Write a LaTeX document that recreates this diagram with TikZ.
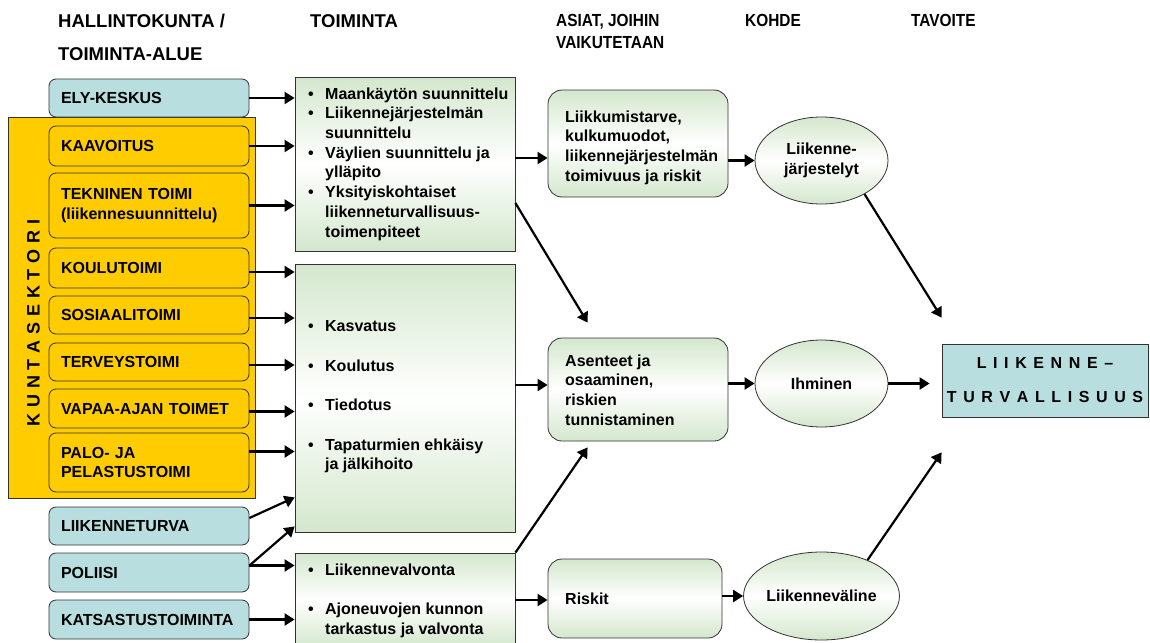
\documentclass[tikz,border=0pt]{standalone}
\usepackage{fontspec}
\setmainfont{Liberation Sans}[BoldFont={Liberation Sans Bold}]
\newfontfamily\narrowfont{Liberation Sans}[BoldFont={Liberation Sans Bold},FakeStretch=0.88]
\usetikzlibrary{arrows.meta,shapes.geometric,calc}
\definecolor{gold}{RGB}{255,204,0}
\definecolor{paleblue}{RGB}{184,222,224}
\definecolor{palegreen}{RGB}{212,231,205}
\definecolor{edge}{RGB}{50,50,50}
% letter spacing for the spaced-out titles
\newcommand\lsk{\kern5.8pt}
\newcommand\gsk{\kern6.6pt}
% bullet list helpers
\newcommand\bul{\makebox[17pt][l]{•}}
\newcommand\ind{\hspace*{17pt}}

\begin{document}
\begin{tikzpicture}[x=1pt,y=-1pt,
  every node/.style={font=\bfseries\fontsize{16}{19.7}\selectfont},
  head/.style={anchor=west,inner sep=0pt,align=left},
  narrowhead/.style={head,font=\narrowfont\bfseries\fontsize{17.5}{22}\selectfont},
  lbox/.style={draw=edge,line width=0.8pt,rounded corners=7pt,minimum width=200pt,
    text width=176pt,inner xsep=12pt,inner ysep=0pt,align=left},
  orgbox/.style={lbox,fill=gold},
  bluebox/.style={lbox,fill=paleblue},
  greenshade/.style={top color=palegreen,bottom color=palegreen,middle color=white},
  actbox/.style={draw=edge,line width=0.8pt,greenshade,minimum width=220pt,inner sep=0pt},
  issuebox/.style={draw=edge,line width=0.8pt,greenshade,rounded corners=14pt,inner sep=0pt},
  focus/.style={draw=edge,line width=0.8pt,greenshade,ellipse,minimum width=133pt,
    minimum height=87pt,inner sep=0pt,align=center},
  txt/.style={anchor=west,inner sep=0pt,align=left},
  arr/.style={line width=2.2pt,-{Triangle[length=10pt,width=12pt]}},
]
\clip (0,0) rectangle (1150,642);
\useasboundingbox (0,0) rectangle (1150,642);

% column headings
\node[head,font=\bfseries\fontsize{18.5}{33}\selectfont] (hAdm) at (58,37.5) {HALLINTOKUNTA /\\TOIMINTA-ALUE};
\node[head,font=\bfseries\fontsize{18.5}{22}\selectfont] (hAct) at (310,21) {TOIMINTA};
\node[narrowhead] (hIss) at (556,31) {ASIAT, JOIHIN\\VAIKUTETAAN};
\node[narrowhead] (hFoc) at (745,20) {KOHDE};
\node[narrowhead] (hGoal) at (911,20) {TAVOITE};

% municipal sector frame
\node[draw=edge,line width=0.8pt,fill=gold,minimum width=247pt,minimum height=381pt,inner sep=0pt] (kunta) at (131.5,307.5) {};
\node[rotate=90,inner sep=0pt,font=\bfseries\fontsize{18}{20}\selectfont] (kuntatxt) at (33.5,323)
  {K\lsk U\lsk N\lsk T\lsk A\lsk S\lsk E\lsk K\lsk T\lsk O\lsk R\lsk I};

% administrative bodies
\node[bluebox,minimum height=38pt] (ely) at (149,98) {ELY-KESKUS};
\node[orgbox,minimum height=40pt] (kaav) at (149,146) {KAAVOITUS};
\node[orgbox,minimum height=65pt] (tekn) at (149,205.5) {TEKNINEN TOIMI\\(liikennesuunnittelu)};
\node[orgbox,minimum height=40pt] (koulu) at (149,268) {KOULUTOIMI};
\node[orgbox,minimum height=38pt] (sos) at (149,315) {SOSIAALITOIMI};
\node[orgbox,minimum height=38pt] (terv) at (149,362) {TERVEYSTOIMI};
\node[orgbox,minimum height=39pt] (vapaa) at (149,408.5) {VAPAA-AJAN TOIMET};
\node[orgbox,minimum height=59pt] (palo) at (149,462.5) {PALO- JA\\PELASTUSTOIMI};
\node[bluebox,minimum height=38pt] (liik) at (149,526) {LIIKENNETURVA};
\node[bluebox,minimum height=39pt] (pol) at (149,572.5) {POLIISI};
\node[bluebox,minimum height=39pt] (kats) at (149,619.5) {KATSASTUSTOIMINTA};

% activities
\node[actbox,minimum height=174pt] (t1) at (405,164) {};
\node[txt] (t1txt) at (308,164) {\bul Maankäytön suunnittelu\\\bul Liikennejärjestelmän\\\ind suunnittelu\\\bul Väylien suunnittelu ja\\\ind ylläpito\\\bul Yksityiskohtaiset\\\ind liikenneturvallisuus-\\\ind toimenpiteet};
\node[actbox,minimum height=268pt] (t2) at (405,398) {};
\node[txt] (t2txt) at (308,397) {\bul Kasvatus\\[19.7pt]\bul Koulutus\\[19.7pt]\bul Tiedotus\\[19.7pt]\bul Tapaturmien ehkäisy\\\ind ja jälkihoito};
\node[actbox,minimum height=94pt] (t3) at (405,600) {};
\node[txt] (t3txt) at (308,600.5) {\bul Liikennevalvonta\\[19.7pt]\bul Ajoneuvojen kunnon\\\ind tarkastus ja valvonta};

% things influenced
\node[issuebox,minimum width=180pt,minimum height=107pt] (asA) at (638,143.5) {};
\node[txt] (asAtxt) at (565,147.5) {Liikkumistarve,\\kulkumuodot,\\liikennejärjestelmän\\toimivuus ja riskit};
\node[issuebox,minimum width=180pt,minimum height=103pt] (asB) at (638,389.5) {};
\node[txt] (asBtxt) at (565,390) {Asenteet ja\\osaaminen,\\riskien\\tunnistaminen};
\node[issuebox,minimum width=174pt,minimum height=79pt] (risk) at (635,598.5) {};
\node[txt] (risktxt) at (565,599) {Riskit};

% targets
\node[focus] (e1) at (821.5,160.5) {Liikenne-\\järjestelyt};
\node[focus] (e2) at (821.5,383.5) {Ihminen};
\node[focus,minimum height=88pt] (e3) at (821.5,596) {Liikenneväline};

% goal
\node[draw=edge,line width=0.8pt,fill=paleblue,minimum width=206pt,minimum height=73pt,
  inner sep=0pt,align=center,font=\bfseries\fontsize{16}{34}\selectfont] (goal) at (1045,380.5)
  {L\gsk I\gsk I\gsk K\gsk E\gsk N\gsk N\gsk E\gsk –\\T\gsk U\gsk R\gsk V\gsk A\gsk L\gsk L\gsk I\gsk S\gsk U\gsk U\gsk S};

% administrative bodies -> activities
\draw[arr] (ely.east) -- (ely.east -| t1.west);
\draw[arr] (kaav.east) -- (kaav.east -| t1.west);
\draw[arr] (tekn.east) -- (tekn.east -| t1.west);
\coordinate (cKoulu) at ($(koulu.east)+(0,4)$);
\coordinate (cSos) at ($(sos.east)+(0,3)$);
\coordinate (cTerv) at ($(terv.east)+(0,3)$);
\coordinate (cVapaa) at ($(vapaa.east)+(0,3)$);
\coordinate (cPalo) at ($(palo.east)+(0,-11)$);
\draw[arr] (cKoulu) -- (cKoulu -| t2.west);
\draw[arr] (cSos) -- (cSos -| t2.west);
\draw[arr] (cTerv) -- (cTerv -| t2.west);
\draw[arr] (cVapaa) -- (cVapaa -| t2.west);
\draw[arr] (cPalo) -- (cPalo -| t2.west);
\draw[arr] ($(liik.east)+(0,-8)$) -- ($(t2.south west)+(0,-35)$);
\coordinate (cPol) at ($(pol.east)+(0,-7)$);
\draw[arr] (cPol) -- ($(t2.south west)+(0,-6)$);
\draw[arr] (cPol) -- (cPol -| t3.west);
\draw[arr] (kats.east) -- (kats.east -| t3.west);

% activities -> things influenced
\coordinate (cT1) at ($(t1.east)+(0,-6)$);
\draw[arr] (cT1) -- (cT1 -| asA.west);
\draw[arr] ($(t1.east)+(0,39)$) -- ($(asB.north west)+(40,-15)$);
\coordinate (cT2) at ($(t2.east)+(0,-13)$);
\draw[arr] (cT2) -- (cT2 -| asB.west);
\draw[arr] (t3.north east) -- ($(asB.south west)+(40,6)$);
\draw[arr] (t3.east) -- (t3.east -| risk.west);

% things influenced -> targets
\draw[arr] (e1.west -| asA.east) -- (e1.west);
\draw[arr] (e2.west -| asB.east) -- (e2.west);
\draw[arr] (e3.west -| risk.east) -- (e3.west);

% targets -> goal
\draw[arr] (e1.-38) -- ($(goal.north west)+(0,-26)$);
\draw[arr] (e2.east) -- ($(e2.east -| goal.west)+(-12,0)$);
\draw[arr] (e3.38) -- ($(goal.south west)+(0,35)$);
\end{tikzpicture}
\end{document}
